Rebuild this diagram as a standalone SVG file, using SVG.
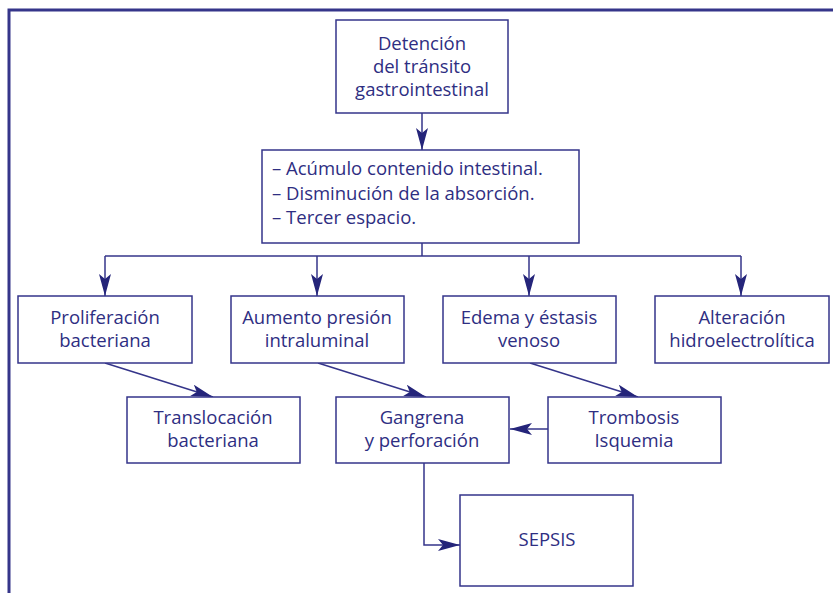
<svg xmlns="http://www.w3.org/2000/svg" width="833" height="593" viewBox="0 0 833 593">
<style>
.box{fill:#fff;stroke:#35358a;stroke-width:1.5}
.t{font-family:"Open Sans","Noto Sans","Liberation Sans",sans-serif;font-size:18.5px;fill:#2e2e82;text-anchor:middle}
.l{text-anchor:start}
.c{fill:none;stroke:#35358a;stroke-width:1.5}
</style>
<defs>
<marker id="ah" markerUnits="userSpaceOnUse" viewBox="0 0 22 12" refX="22" refY="6" markerWidth="22" markerHeight="12" orient="auto">
<path d="M0,0 L22,6 L0,12 L5,6 Z" fill="#25257a"/>
</marker>
</defs>
<rect width="833" height="593" fill="#fff"/>
<path d="M9,593 V10 H833" fill="none" stroke="#35358a" stroke-width="3"/>
<g id="connectors">
<path class="c" d="M422,113 V150" marker-end="url(#ah)"/>
<path class="c" d="M422,243 V256"/>
<path class="c" d="M105,256 H741"/>
<path class="c" d="M105,256 V296" marker-end="url(#ah)"/>
<path class="c" d="M317,256 V296" marker-end="url(#ah)"/>
<path class="c" d="M529,256 V296" marker-end="url(#ah)"/>
<path class="c" d="M741,256 V296" marker-end="url(#ah)"/>
<path class="c" d="M105,363 L213,397" marker-end="url(#ah)"/>
<path class="c" d="M318,363 L426,397" marker-end="url(#ah)"/>
<path class="c" d="M530,363 L638,397" marker-end="url(#ah)"/>
<path class="c" d="M548,429 H510" marker-end="url(#ah)"/>
<path class="c" d="M424,463 V545 H460" marker-end="url(#ah)"/>
</g>
<g id="n1"><rect class="box" x="336" y="20" width="172" height="93"/>
<text class="t" x="422" y="50">Detención</text><text class="t" x="422" y="73">del tránsito</text><text class="t" x="422" y="96">gastrointestinal</text></g>
<g id="n2"><rect class="box" x="262" y="150" width="317" height="93"/>
<text class="t l" x="272" y="175">– Acúmulo contenido intestinal.</text><text class="t l" x="272" y="200">– Disminución de la absorción.</text><text class="t l" x="272" y="224">– Tercer espacio.</text></g>
<g id="n3"><rect class="box" x="18" y="296" width="174" height="67"/>
<text class="t" x="105" y="323.5">Proliferación</text><text class="t" x="105" y="346.5">bacteriana</text></g>
<g id="n4"><rect class="box" x="231" y="296" width="173" height="67"/>
<text class="t" x="317" y="323.5">Aumento presión</text><text class="t" x="317" y="346.5">intraluminal</text></g>
<g id="n5"><rect class="box" x="443" y="296" width="173" height="67"/>
<text class="t" x="529" y="323.5">Edema y éstasis</text><text class="t" x="529" y="346.5">venoso</text></g>
<g id="n6"><rect class="box" x="655" y="296" width="174" height="67"/>
<text class="t" x="742" y="323.5">Alteración</text><text class="t" x="742" y="346.5">hidroelectrolítica</text></g>
<g id="n7"><rect class="box" x="127" y="397" width="173" height="66"/>
<text class="t" x="213" y="423.5">Translocación</text><text class="t" x="213" y="446.5">bacteriana</text></g>
<g id="n8"><rect class="box" x="336" y="397" width="173" height="66"/>
<text class="t" x="422" y="423.5">Gangrena</text><text class="t" x="422" y="446.5">y perforación</text></g>
<g id="n9"><rect class="box" x="548" y="397" width="173" height="66"/>
<text class="t" x="634" y="423.5">Trombosis</text><text class="t" x="634" y="446.5">Isquemia</text></g>
<g id="n10"><rect class="box" x="460" y="495" width="173" height="91"/>
<text class="t" x="547" y="546">SEPSIS</text></g>
</svg>
